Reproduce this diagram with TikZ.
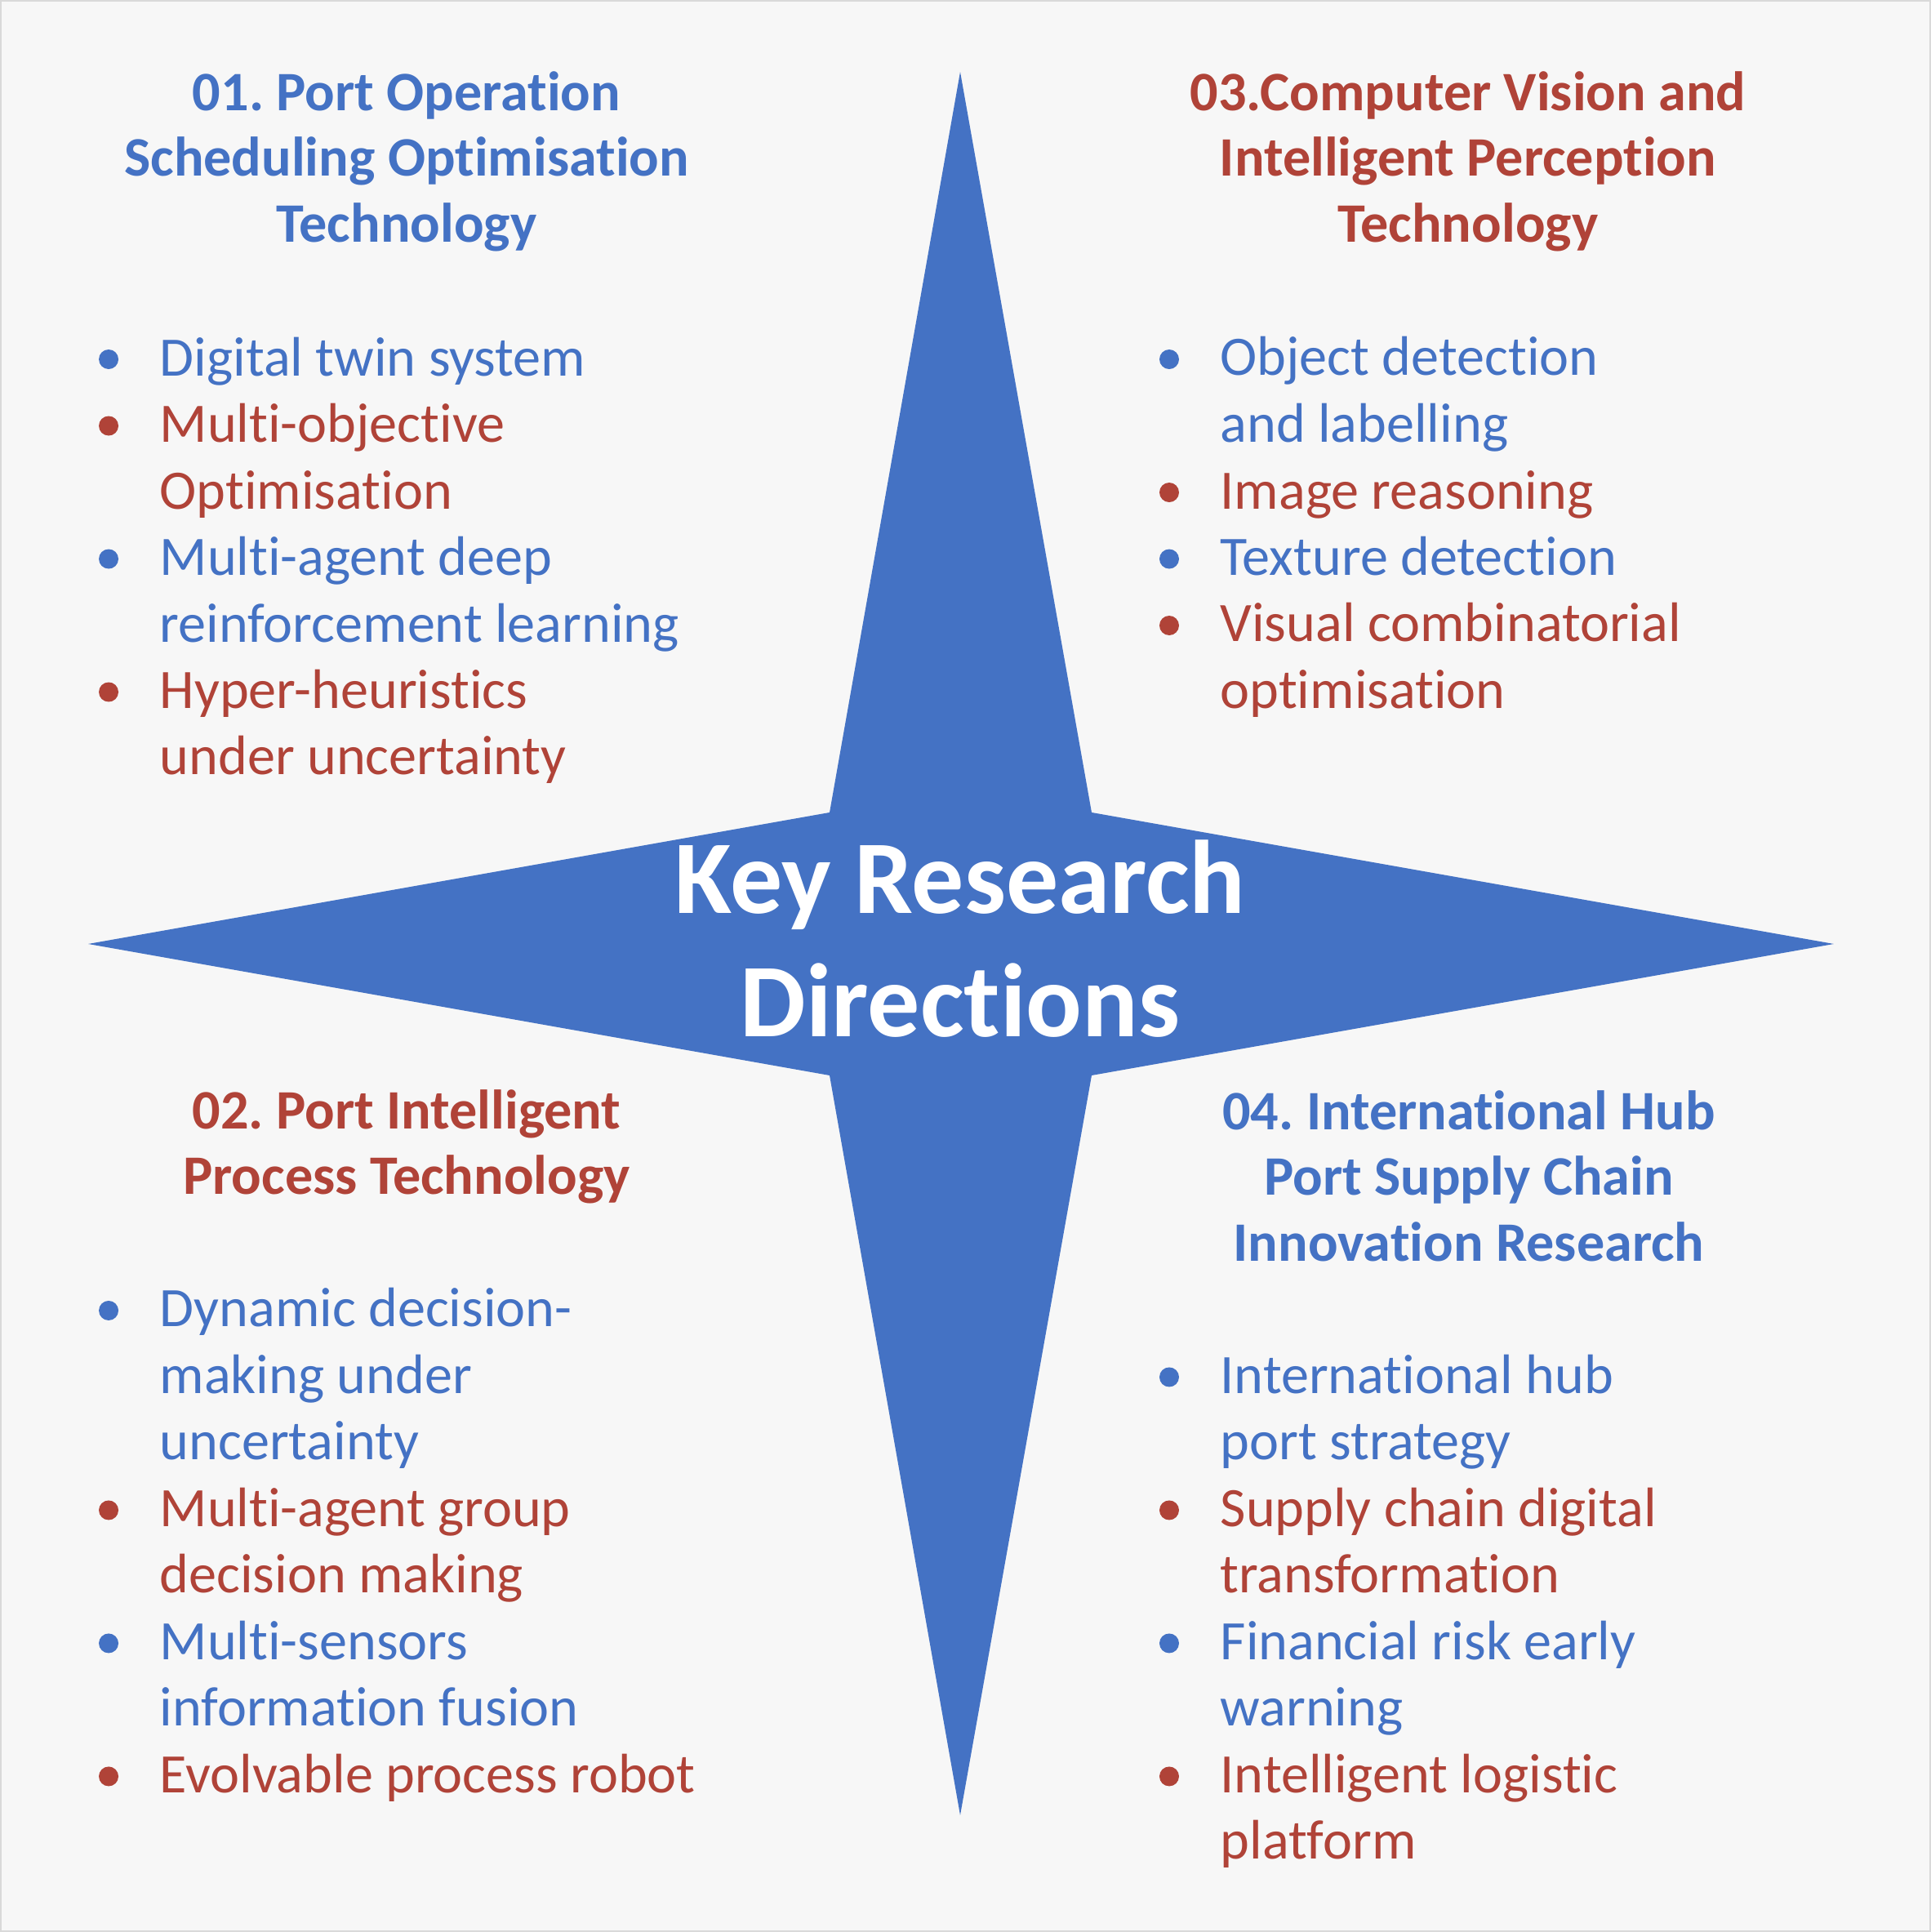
\documentclass[tikz,border=0pt]{standalone}
\usepackage{fontspec}
\setmainfont{Carlito}[Ligatures={TeX,NoCommon}]
\usepackage{tikz}
\usetikzlibrary{calc}
\frenchspacing

\definecolor{keyblue}{HTML}{4472C4}
\definecolor{keyred}{RGB}{176,67,56}
\definecolor{pagebg}{HTML}{F7F7F7}

\begin{document}
\begin{tikzpicture}[
    heading/.style={font=\fontsize{19.4}{22.9}\selectfont\bfseries, align=center, anchor=base, inner sep=0pt},
    item/.style={font=\fontsize{19.4}{23.2}\selectfont, align=left, anchor=base west, inner sep=0pt},
    centre/.style={font=\fontsize{36.4}{43.2}\selectfont\bfseries, text=white, align=center, anchor=base, inner sep=0pt}
]
    % Page
    \fill[pagebg] (0,0) rectangle (23.65,23.66);
    \draw[black!15, line width=0.6pt] (0.01,0.01) rectangle (23.64,23.65);
    \useasboundingbox (0,0) rectangle (23.65,23.66);

    % Four-pointed star (nodes sit on their last baseline)
    \fill[keyblue] (11.76,22.78) -- (13.37,13.71) -- (22.46,12.10) -- (13.37,10.49)
        -- (11.76,1.43) -- (10.16,10.49) -- (1.08,12.10) -- (10.16,13.71) -- cycle;
    \node[centre] (key) at (11.76,10.96) {Key Research\\Directions};

    % Headings
    \node[heading, text=keyblue] (h1) at (4.98,20.70) {01. Port Operation\\Scheduling Optimisation\\Technology};
    \node[heading, text=keyred] (h3) at (17.98,20.70) {03.Computer Vision and\\Intelligent Perception\\Technology};
    \node[heading, text=keyred] (h2) at (4.98,9.03) {02. Port Intelligent\\Process Technology};
    \node[heading, text=keyblue] (h4) at (17.99,8.215) {04. International Hub\\Port Supply Chain\\Innovation Research};

    % 01 items: name/row/extra lines/colour/text
    \foreach \n/\r/\l/\c/\t in {q1a/0/0/keyblue/{Digital twin system},
                               q1b/1/1/keyred/{Multi-objective\\Optimisation},
                               q1c/3/1/keyblue/{Multi-agent deep\\reinforcement learning},
                               q1d/5/1/keyred/{Hyper-heuristics\\under uncertainty}}{
        \node[item, text=\c] (\n) at (1.95,19.06-0.815*\r-0.815*\l) {\t};
        \fill[\c] ($(\n.base west)+(-0.62,0.2+0.815*\l)$) circle (0.12);
    }

    % 03 items
    \foreach \n/\r/\l/\c/\t in {q3a/0/1/keyblue/{Object detection\\and labelling},
                               q3b/2/0/keyred/{Image reasoning},
                               q3c/3/0/keyblue/{Texture detection},
                               q3d/4/1/keyred/{Visual combinatorial\\optimisation}}{
        \node[item, text=\c] (\n) at (14.94,19.06-0.815*\r-0.815*\l) {\t};
        \fill[\c] ($(\n.base west)+(-0.62,0.2+0.815*\l)$) circle (0.12);
    }

    % 02 items
    \foreach \n/\r/\l/\c/\t in {q2a/0/2/keyblue/{Dynamic decision-\\making under\\uncertainty},
                               q2b/3/1/keyred/{Multi-agent group\\decision making},
                               q2c/5/1/keyblue/{Multi-sensors\\information fusion},
                               q2d/7/0/keyred/{Evolvable process robot}}{
        \node[item, text=\c] (\n) at (1.95,7.41-0.815*\r-0.815*\l) {\t};
        \fill[\c] ($(\n.base west)+(-0.62,0.2+0.815*\l)$) circle (0.12);
    }

    % 04 items
    \foreach \n/\r/\l/\c/\t in {q4a/0/1/keyblue/{International hub\\port strategy},
                               q4b/2/1/keyred/{Supply chain digital\\transformation},
                               q4c/4/1/keyblue/{Financial risk early\\warning},
                               q4d/6/1/keyred/{Intelligent logistic\\platform}}{
        \node[item, text=\c] (\n) at (14.94,6.595-0.815*\r-0.815*\l) {\t};
        \fill[\c] ($(\n.base west)+(-0.62,0.2+0.815*\l)$) circle (0.12);
    }
\end{tikzpicture}
\end{document}
